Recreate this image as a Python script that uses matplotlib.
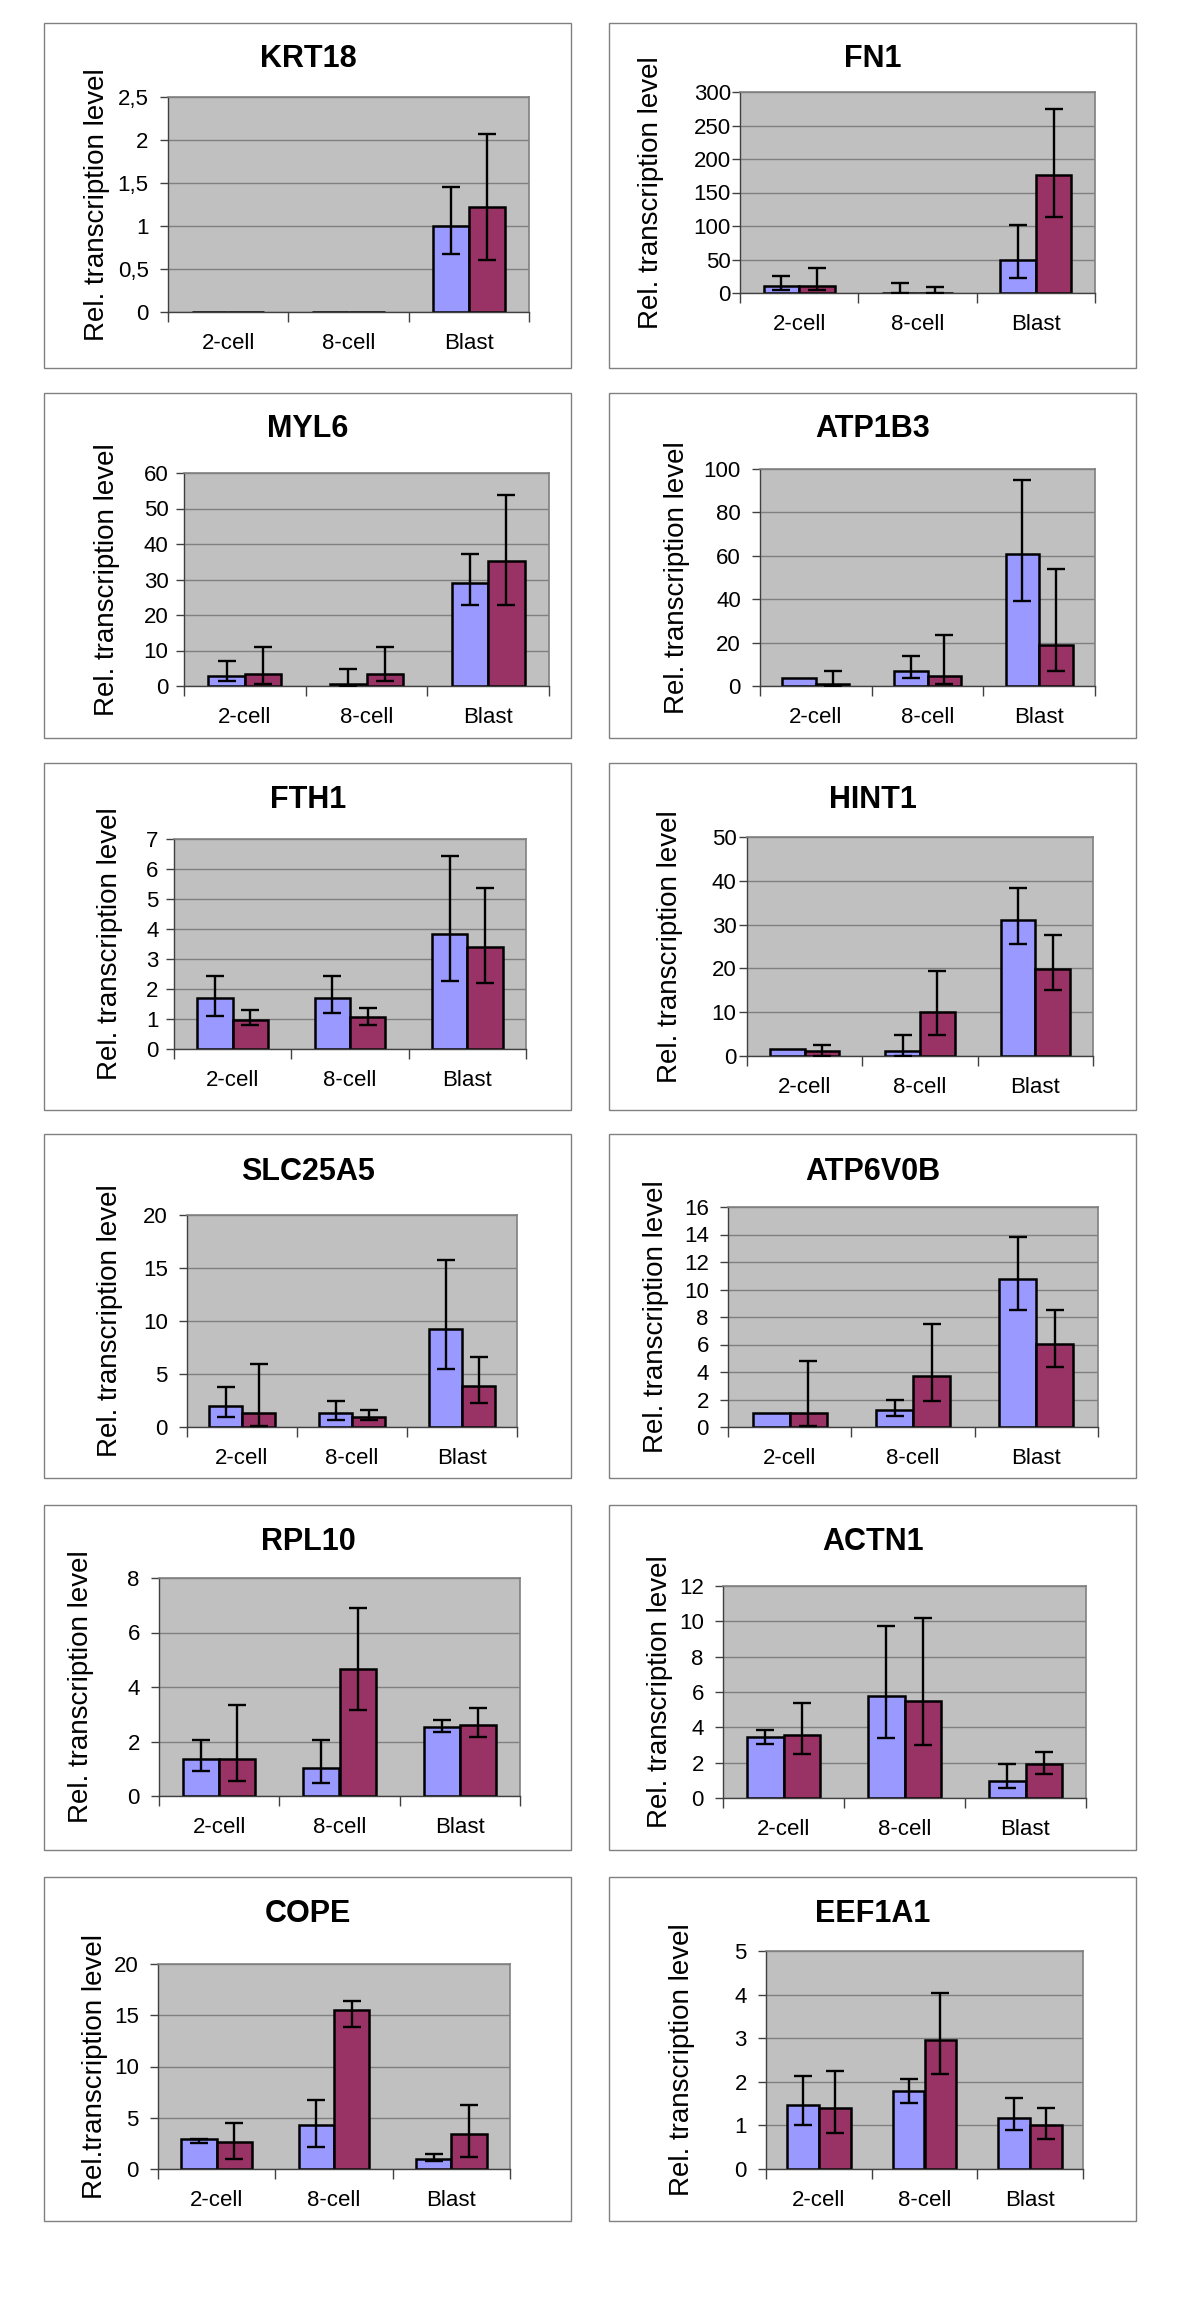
import numpy as np
import matplotlib
matplotlib.use("Agg")
import matplotlib.pyplot as plt
from matplotlib.patches import Rectangle

plt.rcParams['font.family'] = ['Liberation Sans', 'DejaVu Sans']

# ---------------- data ----------------
categories = ["2-cell", "8-cell", "Blast"]
genes = ["KRT18", "FN1", "MYL6", "ATP1B3", "FTH1", "HINT1",
         "SLC25A5", "ATP6V0B", "RPL10", "ACTN1", "COPE", "EEF1A1"]
ylabels = ["Rel. transcription level"] * 10 + ["Rel.transcription level", "Rel. transcription level"]

y_max = [2.5, 300, 60, 100, 7, 50, 20, 16, 8, 12, 20, 5]
y_step = [0.5, 50, 10, 20, 1, 10, 5, 2, 2, 2, 5, 1]
decimal_comma = [True] + [False] * 11

blue_vals = [
    [0, 0, 1.0], [11, 0.5, 49], [2.8, 0.7, 29.1], [3.5, 6.9, 60.9],
    [1.71, 1.71, 3.84], [1.7, 1.1, 31.0], [2.0, 1.3, 9.2], [1.02, 1.22, 10.8],
    [1.37, 1.02, 2.52], [3.43, 5.77, 0.94], [2.89, 4.33, 0.98], [1.46, 1.80, 1.18],
]
red_vals = [
    [0, 0, 1.22], [11, 0.5, 176], [3.5, 3.4, 35.2], [1.1, 4.6, 19.1],
    [0.98, 1.06, 3.40], [1.1, 10.0, 19.9], [1.35, 0.9, 3.9], [1.02, 3.7, 6.03],
    [1.37, 4.67, 2.62], [3.58, 5.51, 1.92], [2.63, 15.48, 3.38], [1.40, 2.97, 1.01],
]
# error bar ends (low, high); None = no error bar
blue_err = [
    [None, None, (0.67, 1.45)],
    [(4, 26), (0, 15), (22, 102)],
    [(1.4, 7.0), (0, 4.9), (22.7, 37.3)],
    [None, (3.7, 13.8), (39.4, 94.9)],
    [(1.11, 2.42), (1.21, 2.42), (2.28, 6.43)],
    [None, (0, 4.8), (25.5, 38.3)],
    [(0.9, 3.8), (0.7, 2.5), (5.5, 15.8)],
    [None, (0.83, 1.95), (8.49, 13.85)],
    [(0.92, 2.07), (0.47, 2.07), (2.34, 2.79)],
    [(3.04, 3.85), (3.40, 9.75), (0.55, 1.92)],
    [(2.57, 2.96), (2.15, 6.70), (0.78, 1.43)],
    [(1.01, 2.13), (1.51, 2.06), (0.90, 1.62)],
]
red_err = [
    [None, None, (0.60, 2.07)],
    [(4, 37), (0, 8.5), (113, 274)],
    [(0.5, 11), (1.4, 11), (22.7, 53.9)],
    [(0, 6.8), (1.1, 23.5), (6.8, 54)],
    [(0.79, 1.30), (0.79, 1.37), (2.20, 5.36)],
    [(0, 2.6), (4.9, 19.4), (15.0, 27.7)],
    [(0.1, 5.95), (0.7, 1.6), (2.3, 6.6)],
    [(0.1, 4.8), (1.92, 7.47), (4.38, 8.49)],
    [(0.55, 3.33), (3.15, 6.91), (2.16, 3.24)],
    [(2.47, 5.38), (3.02, 10.2), (1.36, 2.6)],
    [(0.98, 4.52), (13.85, 16.42), (1.2, 6.21)],
    [(0.83, 2.24), (2.19, 4.03), (0.68, 1.40)],
]

# ---------------- layout (pixels in a 1200x2306 canvas) ----------------
W, H = 1200, 2306
plot_boxes = [
    (168, 97, 529, 312), (740, 92, 1095, 293),
    (184, 473, 549, 686), (760, 469, 1095, 686),
    (174, 839, 526, 1049), (747, 837, 1093, 1056),
    (187, 1215, 517, 1427), (728, 1207, 1098, 1427),
    (159, 1578, 520, 1796), (723, 1586, 1086, 1798),
    (158, 1964, 510, 2169), (766, 1951, 1083, 2169),
]
ylabel_x = [97, 651, 107, 677, 110, 670, 110, 656, 81, 660, 95, 682]
ytick_pad = [8.0, 0.5, 5.2, 7.8, 5.2, 1.5, 7.8, 7.8, 7.8, 7.8, 7.8, 7.8]
row_boxes = [(23, 368), (393, 738), (763, 1110), (1134, 1478), (1505, 1850), (1877, 2221)]
col_boxes = [(44, 571), (609, 1136)]
title_base = [67, 437, 808, 1180, 1550, 1922]
title_x = [308, 873]

BLUE = '#9999FF'
RED = '#993366'
PLOT_BG = '#C0C0C0'
GRID = '#808080'

fig = plt.figure(figsize=(W / 100, H / 100), dpi=100)
fig.patch.set_facecolor('white')

# chart frames
for (t, b) in row_boxes:
    for (l, r) in col_boxes:
        fig.patches.append(Rectangle((l / W, 1 - b / H), (r - l) / W, (b - t) / H,
                                     transform=fig.transFigure, fill=False,
                                     edgecolor='#808080', linewidth=1.0))

x = np.arange(len(categories)) + 0.5
bw = 0.3

for i, g in enumerate(genes):
    L, T, R, B = plot_boxes[i]
    ax = fig.add_axes([L / W, 1 - B / H, (R - L) / W, (B - T) / H])
    ax.set_facecolor(PLOT_BG)
    ax.set_axisbelow(True)

    ax.bar(x - bw / 2, blue_vals[i], width=bw, color=BLUE, edgecolor='black', linewidth=1.8, zorder=2)
    ax.bar(x + bw / 2, red_vals[i], width=bw, color=RED, edgecolor='black', linewidth=1.8, zorder=2)

    for xs, vals, errs in ((x - bw / 2, blue_vals[i], blue_err[i]),
                           (x + bw / 2, red_vals[i], red_err[i])):
        for xx, v, e in zip(xs, vals, errs):
            if e is None:
                continue
            lo, hi = e
            ax.errorbar([xx], [v], yerr=[[v - lo], [hi - v]], fmt='none',
                        ecolor='black', elinewidth=1.7, capsize=6.5, capthick=1.7, zorder=3)

    ax.set_xlim(0, 3)
    ax.set_ylim(0, y_max[i])
    yt = np.arange(0, y_max[i] + y_step[i] / 2, y_step[i])
    ax.set_yticks(yt)
    if decimal_comma[i]:
        ax.set_yticklabels([('%g' % v).replace('.', ',') for v in yt])
    else:
        ax.set_yticklabels(['%g' % v for v in yt])
    ax.yaxis.grid(True, color=GRID, linewidth=1.0)
    ax.tick_params(axis='y', direction='out', length=6, width=1, color='#404040',
                   labelsize=16, pad=ytick_pad[i])

    ax.set_xticks([0, 1, 2, 3])
    ax.set_xticklabels([])
    ax.set_xticks(x, minor=True)
    ax.set_xticklabels(categories, minor=True)
    ax.tick_params(axis='x', which='major', direction='out', length=7, width=1, color='#404040')
    ax.tick_params(axis='x', which='minor', length=0, labelsize=16, pad=15)

    for s in ['top', 'right']:
        ax.spines[s].set_color('#808080')
        ax.spines[s].set_linewidth(1.2)
    for s in ['left', 'bottom']:
        ax.spines[s].set_color('#404040')
        ax.spines[s].set_linewidth(1.0)

    lab = ax.set_ylabel(ylabels[i], fontsize=20)
    lab.set_verticalalignment('center')
    ax.yaxis.set_label_coords((ylabel_x[i] - L) / (R - L), 0.5)

    row, col = divmod(i, 2)
    fig.text(title_x[col] / W, 1 - title_base[row] / H, g, ha='center', va='baseline',
             fontsize=22, fontweight='bold')

fig.savefig('out.png', dpi=100, facecolor='white')
